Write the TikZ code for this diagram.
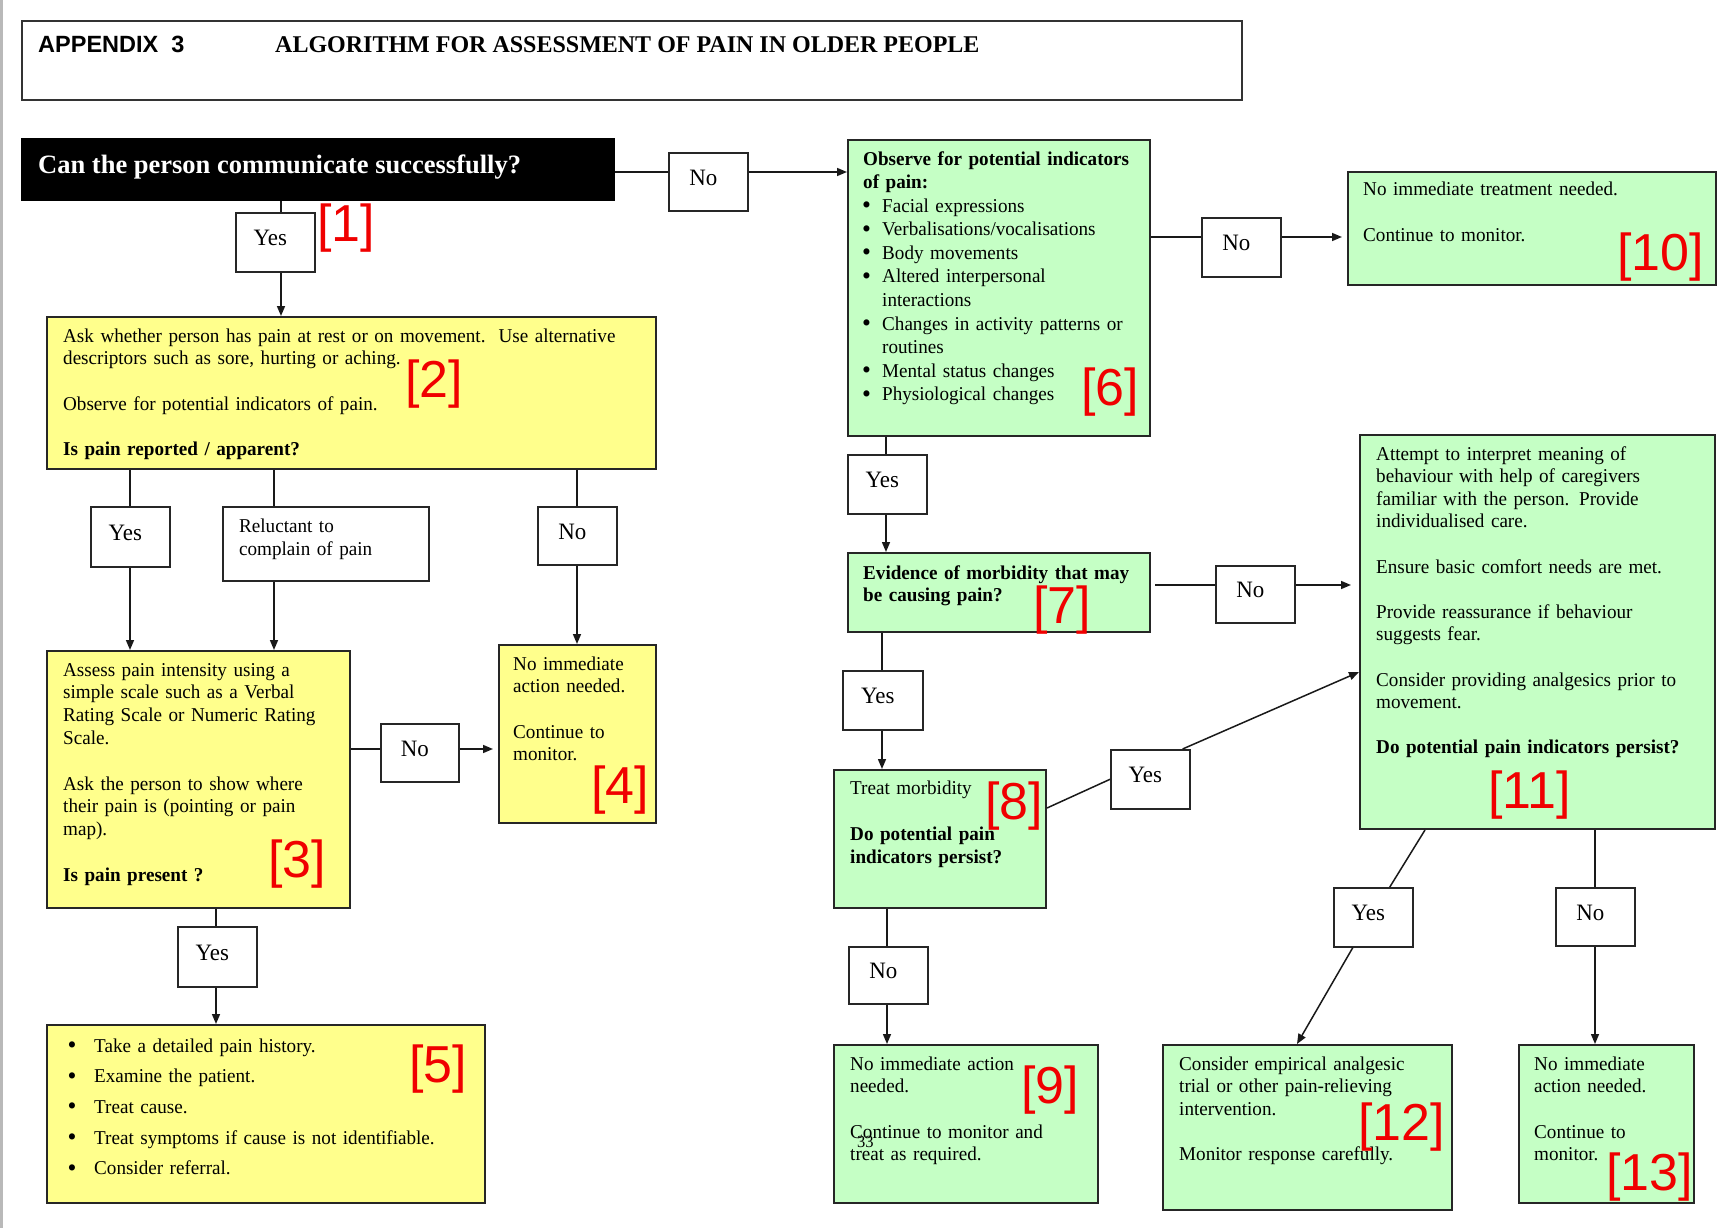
\documentclass[tikz,border=0pt]{standalone}
\usepackage{fontspec}
\setmainfont{Liberation Serif}
\newfontfamily\bodyf[FakeStretch=0.975]{Liberation Serif}
\newfontfamily\sansf{Liberation Sans}
\usetikzlibrary{arrows.meta,calc}
\definecolor{yel}{RGB}{255,255,140}
\definecolor{grn}{RGB}{197,255,197}
\definecolor{lbred}{RGB}{240,0,0}
\newcommand{\bt}[1]{\bodyf\fontsize{19.6}{#1}\selectfont}
\newcommand{\bul}[1]{\makebox[#1][l]{\hspace*{-1.2pt}\raisebox{-1.5pt}{\fontsize{26}{26}\selectfont\textbullet}}}
\newcommand{\lt}[1]{#1\kern10pt\hbox{}}
\begin{document}
\begin{tikzpicture}[x=1pt,y=-1pt,
  box/.style={draw=black!85, line width=2pt, inner sep=0pt, anchor=north west},
  ybox/.style={box, fill=yel},
  gbox/.style={box, fill=grn},
  lab/.style={draw=black!85, line width=1.6pt, fill=white, inner sep=0pt, anchor=north west, text height=13pt, text depth=6.5pt, font=\bodyf\fontsize{23.5}{25}\selectfont},
  txt/.style={anchor=base west, inner sep=0pt, align=left, text width=700pt},
  num/.style={anchor=north west, inner sep=0pt, text=lbred, font=\sansf\fontsize{52}{54}\selectfont},
  con/.style={line width=1.5pt, draw=black!90},
  arr/.style={con, -{Triangle[length=10pt,width=8pt]}},
]
\fill[white] (0,0) rectangle (1730,1228);
\useasboundingbox (0,0) rectangle (1730,1228);
\draw[gray!55, line width=2.5pt] (1.5,0) -- (1.5,1228);

% header
\node[box, draw=black!80, minimum width=1220, minimum height=79] (hdr) at (21,20) {};
\node[anchor=base west, inner sep=0pt, font=\sansf\bfseries\fontsize{23.5}{25}\selectfont] (app) at (38,53) {APPENDIX\ \ 3};
\node[anchor=base west, inner sep=0pt, font=\bfseries\fontsize{24}{26}\selectfont] (alg) at (275,53) {ALGORITHM FOR ASSESSMENT OF PAIN IN OLDER PEOPLE};

% question 1
\node[box, fill=black, draw=black, minimum width=592, minimum height=61] (q1) at (20.5,138) {};
\node[anchor=base west, inner sep=0pt, text=white, font=\bfseries\fontsize{26.5}{28}\selectfont] (q1t) at (38,174) {Can the person communicate successfully?};

\node[lab, minimum width=79, minimum height=59] (y1) at (235,212) {\lt{Yes}};
\node[lab, minimum width=79, minimum height=58] (n1) at (668,152) {\lt{No}};

% box 2
\node[ybox, minimum width=609, minimum height=152] (b2) at (46,316) {};
\node[txt, font=\bt{22.7}] (b2t) at (63,342) {Ask whether person has pain at rest or on movement.\ \ Use alternative\\ descriptors such as sore, hurting or aching.\\[22.7pt] Observe for potential indicators of pain.\\[22.7pt] \textbf{Is pain reported / apparent?}};

\node[lab, minimum width=79, minimum height=60] (y2) at (90,506) {\lt{Yes}};
\node[lab, minimum width=206, minimum height=74] (rel) at (222,506) {};
\node[txt, font=\bt{23}] (relt) at (239,532) {Reluctant to\\ complain of pain};
\node[lab, minimum width=79, minimum height=58] (n2) at (537,506) {\lt{No}};

% box 3
\node[ybox, minimum width=303, minimum height=257] (b3) at (46,650) {};
\node[txt, font=\bt{22.8}] (b3t) at (63,676) {Assess pain intensity using a\\ simple scale such as a Verbal\\ Rating Scale or Numeric Rating\\ Scale.\\[22.8pt] Ask the person to show where\\ their pain is (pointing or pain\\ map).\\[22.8pt] \textbf{Is pain present ?}};

% box 4
\node[ybox, minimum width=157, minimum height=178] (b4) at (498,644) {};
\node[txt, font=\bt{22.7}] (b4t) at (513,670) {No immediate\\ action needed.\\[22.7pt] Continue to\\ monitor.};

\node[lab, minimum width=78, minimum height=58] (n3) at (380,723) {\lt{No}};
\node[lab, minimum width=79, minimum height=60] (y3) at (177,926) {\lt{Yes}};

% box 5
\node[ybox, minimum width=438, minimum height=178] (b5) at (46,1024) {};
\node[txt, font=\bt{30.7}] (b5t) at (68.6,1052) {\bul{25.4pt}Take a detailed pain history.\\ \bul{25.4pt}Examine the patient.\\ \bul{25.4pt}Treat cause.\\ \bul{25.4pt}Treat symptoms if cause is not identifiable.\\ \bul{25.4pt}Consider referral.};

% box 6
\node[gbox, minimum width=302, minimum height=296] (b6) at (847,139) {};
\node[txt, font=\bt{23.6}] (b6t) at (863,165) {\textbf{Observe for potential indicators}\\ \textbf{of pain:}\\ \bul{19pt}Facial expressions\\ \bul{19pt}Verbalisations/vocalisations\\ \bul{19pt}Body movements\\ \bul{19pt}Altered interpersonal\\ \hspace*{19pt}interactions\\ \bul{19pt}Changes in activity patterns or\\ \hspace*{19pt}routines\\ \bul{19pt}Mental status changes\\ \bul{19pt}Physiological changes};

\node[lab, minimum width=79, minimum height=59] (n6) at (1201,217) {\lt{No}};

% box 10
\node[gbox, minimum width=368, minimum height=113] (b10) at (1347,171) {};
\node[txt, font=\bt{23}] (b10t) at (1363,196) {No immediate treatment needed.\\[23pt] Continue to monitor.};

\node[lab, minimum width=79, minimum height=59] (y6) at (847,454) {\lt{Yes}};

% box 7
\node[gbox, minimum width=302, minimum height=79] (b7) at (847,552) {};
\node[txt, font=\bt{22.5}] (b7t) at (863,579) {\textbf{Evidence of morbidity that may}\\ \textbf{be causing pain?}};

\node[lab, minimum width=79, minimum height=57] (n7) at (1215,565) {\lt{No}};

% box 11
\node[gbox, minimum width=355, minimum height=394] (b11) at (1359,434) {};
\node[txt, font=\bt{22.6}] (b11t) at (1376,460) {Attempt to interpret meaning of\\ behaviour with help of caregivers\\ familiar with the person. Provide\\ individualised care.\\[22.6pt] Ensure basic comfort needs are met.\\[22.6pt] Provide reassurance if behaviour\\ suggests fear.\\[22.6pt] Consider providing analgesics prior to\\ movement.\\[22.6pt] \textbf{Do potential pain indicators persist?}};

\node[lab, minimum width=80, minimum height=59] (y7) at (842,670) {\lt{Yes}};

% box 8
\node[gbox, minimum width=212, minimum height=138] (b8) at (833,769) {};
\node[txt, font=\bt{23}] (b8t) at (850,794) {Treat morbidity\\[23pt] \textbf{Do potential pain}\\ \textbf{indicators persist?}};

\node[lab, minimum width=79, minimum height=59] (y8) at (1110,749) {\lt{Yes}};
\node[lab, minimum width=79, minimum height=57] (n8) at (848,946) {\lt{No}};

% box 9
\node[gbox, minimum width=264, minimum height=158] (b9) at (833,1044) {};
\node[txt, font=\bt{22.7}] (b9t) at (850,1070) {No immediate action\\ needed.\\[22.7pt] Continue to monitor and\\ treat as required.};
\node[anchor=base west, inner sep=0pt, font=\bodyf\fontsize{17}{18}\selectfont] (pg) at (857,1147) {33};

\node[lab, minimum width=79, minimum height=59] (y11) at (1333,887) {\lt{Yes}};
\node[lab, minimum width=79, minimum height=58] (n11) at (1555,887) {\lt{No}};

% box 12
\node[gbox, minimum width=289, minimum height=165] (b12) at (1162,1044) {};
\node[txt, font=\bt{22.7}] (b12t) at (1179,1070) {Consider empirical analgesic\\ trial or other pain-relieving\\ intervention.\\[22.7pt] Monitor response carefully.};

% box 13
\node[gbox, minimum width=175, minimum height=158] (b13) at (1518,1044) {};
\node[txt, font=\bt{22.7}] (b13t) at (1534,1070) {No immediate\\ action needed.\\[22.7pt] Continue to\\ monitor.};

% red numbers
\node[num] (r1) at (317,204) {[1]};
\node[num] (r2) at (405,360) {[2]};
\node[num] (r3) at (268,840) {[3]};
\node[num] (r4) at (591,766) {[4]};
\node[num] (r5) at (409,1045) {[5]};
\node[num] (r6) at (1081,368) {[6]};
\node[num] (r7) at (1033,586) {[7]};
\node[num] (r8) at (985,782) {[8]};
\node[num] (r9) at (1021,1066) {[9]};
\node[num] (r10) at (1617,233) {[10]};
\node[num] (r11) at (1488,771) {[11]};
\node[num] (r12) at (1358,1103) {[12]};
\node[num] (r13) at (1606,1153) {[13]};

% connector guide coordinates
\coordinate (vA) at (281,0);
\coordinate (vB) at (130,0);
\coordinate (vC) at (274,0);
\coordinate (vD) at (577,0);
\coordinate (vE) at (216,0);
\coordinate (vF) at (886,0);
\coordinate (vG) at (882,0);
\coordinate (vH) at (887,0);
\coordinate (vI) at (1595,0);
\coordinate (hA) at (0,172);
\coordinate (hB) at (0,749);
\coordinate (hC) at (0,237);
\coordinate (hD) at (0,585);

% connectors
\draw[con] (q1.south -| vA) -- (y1.north -| vA);
\draw[arr] (y1.south -| vA) -- (b2.north -| vA);
\draw[con] (q1.east |- hA) -- (n1.west |- hA);
\draw[arr] (n1.east |- hA) -- (b6.west |- hA);
\draw[con] (b2.south -| vB) -- (y2.north -| vB);
\draw[arr] (y2.south -| vB) -- (b3.north -| vB);
\draw[con] (b2.south -| vC) -- (rel.north -| vC);
\draw[arr] (rel.south -| vC) -- (b3.north -| vC);
\draw[con] (b2.south -| vD) -- (n2.north -| vD);
\draw[arr] (n2.south -| vD) -- (b4.north -| vD);
\draw[con] (b3.east |- hB) -- (n3.west |- hB);
\draw[arr, shorten >=5pt] (n3.east |- hB) -- (b4.west |- hB);
\draw[con] (b3.south -| vE) -- (y3.north -| vE);
\draw[arr] (y3.south -| vE) -- (b5.north -| vE);
\draw[con] (b6.east |- hC) -- (n6.west |- hC);
\draw[arr, shorten >=5pt] (n6.east |- hC) -- (b10.west |- hC);
\draw[con] (b6.south -| vF) -- (y6.north -| vF);
\draw[arr] (y6.south -| vF) -- (b7.north -| vF);
\draw[con, shorten <=4pt] (b7.east |- hD) -- (n7.west |- hD);
\draw[arr, shorten >=8pt] (n7.east |- hD) -- (b11.west |- hD);
\draw[con] (b7.south -| vG) -- (y7.north -| vG);
\draw[arr] (y7.south -| vG) -- (b8.north -| vG);
\draw[con] ([yshift=-39pt]b8.north east) -- (y8.west);
\draw[arr] ([xshift=-8pt]y8.north east) -- ([yshift=-40pt]b11.west);
\draw[con] (b8.south -| vH) -- (n8.north -| vH);
\draw[arr] (n8.south -| vH) -- (b9.north -| vH);
\draw[con] ([xshift=-112.5pt]b11.south) -- ([xshift=16.5pt]y11.north);
\draw[arr] ([xshift=-20.5pt]y11.south) -- ([xshift=-10.5pt]b12.north);
\draw[con] (b11.south -| vI) -- (n11.north -| vI);
\draw[arr] (n11.south -| vI) -- (b13.north -| vI);
\end{tikzpicture}
\end{document}
